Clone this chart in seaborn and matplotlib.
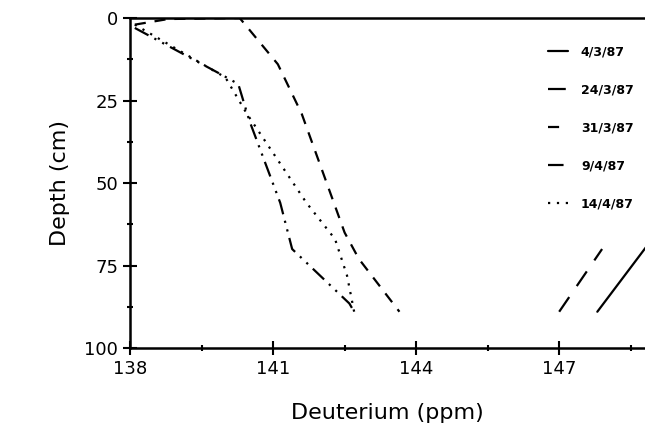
import numpy as np
import pandas as pd
import matplotlib
matplotlib.use("Agg")
import matplotlib.pyplot as plt
import seaborn as sns

sns.set_style("ticks")
plt.rcParams["font.family"] = ["DejaVu Sans"]
plt.rcParams["text.color"] = "black"
plt.rcParams["axes.labelcolor"] = "black"
plt.rcParams["xtick.color"] = "black"
plt.rcParams["ytick.color"] = "black"
plt.rcParams["axes.edgecolor"] = "black"

# depth profiles of deuterium (ppm) vs depth (cm)
d_4_3 = [147.8, 149.0]
z_4_3 = [89, 66]
d_24_3 = [147.0, 147.9]
z_24_3 = [89, 70]
d_31_3 = [138.1, 138.8, 140.3, 141.1, 141.6, 142.5, 142.8, 143.65]
z_31_3 = [2, 0.3, 0, 14, 29, 65, 73, 89]
d_9_4 = [138.1, 139.9, 140.27, 140.5, 141.15, 141.4, 142.6, 142.7]
z_9_4 = [3, 17, 20, 31, 56, 70, 86.5, 89]
d_14_4 = [138.1, 140.0, 140.45, 141.7, 142.3, 142.55, 142.7]
z_14_4 = [2, 18, 29, 56, 67, 78, 89]

series = [
    ("4/3/87", d_4_3, z_4_3, "-"),
    ("24/3/87", d_24_3, z_24_3, (0, (8, 6))),
    ("31/3/87", d_31_3, z_31_3, (0, (5, 4))),
    ("9/4/87", d_9_4, z_9_4, (0, (7, 3, 1, 3, 1, 3))),
    ("14/4/87", d_14_4, z_14_4, (0, (1, 3))),
]

fig = plt.figure(figsize=(6.45, 4.4), dpi=100)
ax = fig.add_axes([0.2016, 0.209, 0.7984, 0.75])

for name, d, z, ls in series:
    df = pd.DataFrame({"d": d, "z": z})
    sns.lineplot(data=df, x="d", y="z", sort=False, color="black", lw=1.6,
                 linestyle=ls, label=name, ax=ax)

ax.set_xlim(138, 148.8)
ax.set_ylim(100, 0)
ax.set_xticks([138, 141, 144, 147])
ax.set_xticks([139.5, 142.5, 145.5, 148.5], minor=True)
ax.set_yticks([0, 25, 50, 75, 100])
ax.set_yticks([12.5, 37.5, 62.5, 87.5], minor=True)
ax.tick_params(which="both", direction="inout", width=1.5, labelsize=13)
ax.tick_params(which="major", length=10)
ax.tick_params(which="minor", length=5)
ax.spines["right"].set_visible(False)
for s in ["left", "top", "bottom"]:
    ax.spines[s].set_linewidth(1.8)
ax.set_xlabel("Deuterium (ppm)", fontsize=16, labelpad=18)
ax.set_ylabel("Depth (cm)", fontsize=16, labelpad=10)

leg = ax.legend(loc="upper right", bbox_to_anchor=(1.0, 0.95), frameon=False,
                handlelength=1.6, handletextpad=1.0, labelspacing=2.0, fontsize=9)
for t in leg.get_texts():
    t.set_fontweight("bold")

fig.savefig("out.png", dpi=100)
